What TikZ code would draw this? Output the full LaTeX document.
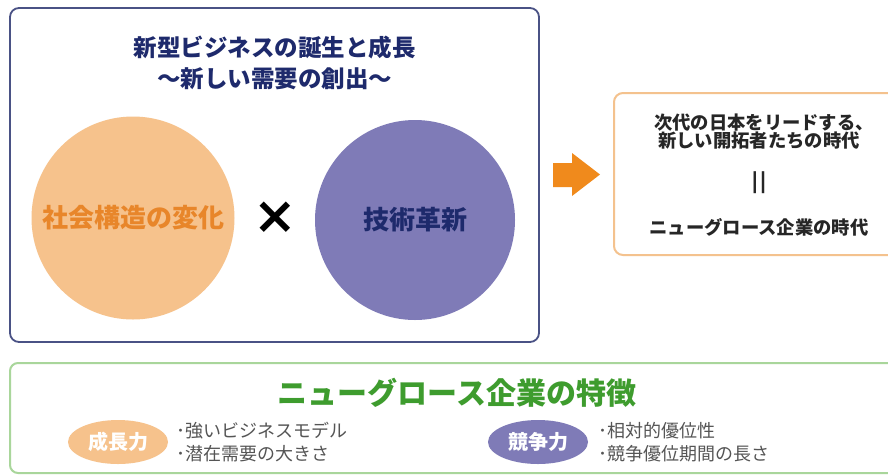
\documentclass[tikz,border=0pt]{standalone}
\usepackage{fontspec}
\newfontfamily\jp{Noto Sans CJK JP}
\newfontfamily\dejavu{DejaVu Sans}
\usetikzlibrary{shapes.geometric}
\definecolor{navyline}{HTML}{4A5285}
\definecolor{navytext}{HTML}{1E2A6C}
\definecolor{orangefill}{HTML}{F6C28C}
\definecolor{orangetext}{HTML}{E8862A}
\definecolor{purplefill}{HTML}{7F7BB7}
\definecolor{arrowc}{HTML}{F08A1C}
\definecolor{rightline}{HTML}{F4C28E}
\definecolor{greenline}{HTML}{A9D69B}
\definecolor{greentext}{HTML}{3E9C2E}
\definecolor{graytext}{HTML}{555555}
\tikzset{
  mainbox/.style={draw=navyline, line width=1.8pt, rounded corners=9pt, minimum width=529pt, minimum height=334pt, fill=white},
  rightbox/.style={draw=rightline, line width=2pt, rounded corners=9pt, minimum width=290pt, minimum height=162pt, fill=white},
  greenbox/.style={draw=greenline, line width=2pt, rounded corners=8pt, minimum width=894pt, minimum height=110pt, fill=white},
  titletext/.style={font=\jp\bfseries\fontsize{23.5}{28}\selectfont, text=navytext, inner sep=0pt},
  bigcircle/.style={circle, inner sep=0pt, font=\jp\bfseries\fontsize{26}{30}\selectfont},
  righttext/.style={font=\jp\bfseries\fontsize{18.3}{21}\selectfont, text=black!85, inner sep=0pt},
  pill/.style={ellipse, inner sep=0pt, minimum width=100pt, minimum height=44pt, text=white, font=\jp\bfseries\fontsize{20}{24}\selectfont},
  bullet/.style={anchor=west, inner sep=0pt, text=graytext, font=\jp\fontsize{18}{21}\selectfont},
}
\begin{document}
\begin{tikzpicture}[x=1pt,y=-1pt]
\useasboundingbox[fill=white] (0,0) rectangle (888,475);
% main box
\node[mainbox] (main) at (274.5,175) {};
\node[titletext] (t1) at (274.5,48) {新型ビジネスの誕生と成長};
\node[titletext] (t2) at (274.5,79) {～新しい需要の創出～};
\node[bigcircle, fill=orangefill, minimum size=203pt, text=orangetext] (soc) at (133,218) {社会構造の変化};
\node[inner sep=0pt, font=\dejavu\bfseries\fontsize{52}{56}\selectfont] (times) at (275,218) {×};
\node[bigcircle, fill=purplefill, minimum size=200pt, text=navytext] (tech) at (415,220) {技術革新};
% arrow
\fill[arrowc] (553,163) -- (572,163) -- (572,153) -- (600,174.5) -- (572,196) -- (572,187) -- (553,187) -- cycle;
% right box
\node[rightbox] (rb) at (759,174) {};
\node[righttext] (r1) at (764,123) {次代の日本をリードする、};
\node[righttext] (r2) at (759,141) {新しい開拓者たちの時代};
\node[righttext, font=\dejavu\bfseries\fontsize{22}{24}\selectfont] (r3) at (759,183) {||};
\node[righttext] (r4) at (759,227) {ニューグロース企業の時代};
% green box
\node[greenbox] (gb) at (457,418) {};
\node[inner sep=0pt, text=greentext, font=\jp\bfseries\fontsize{30}{34}\selectfont] (gt) at (457,393) {ニューグロース企業の特徴};
\node[pill, fill=orangefill] (p1) at (118,442) {成長力};
\node[bullet] (b1) at (176,431) {･強いビジネスモデル};
\node[bullet] (b2) at (176,454) {･潜在需要の大きさ};
\node[pill, fill=purplefill] (p2) at (538,442) {競争力};
\node[bullet] (b3) at (598,431) {･相対的優位性};
\node[bullet] (b4) at (598,454) {･競争優位期間の長さ};
\end{tikzpicture}
\end{document}
